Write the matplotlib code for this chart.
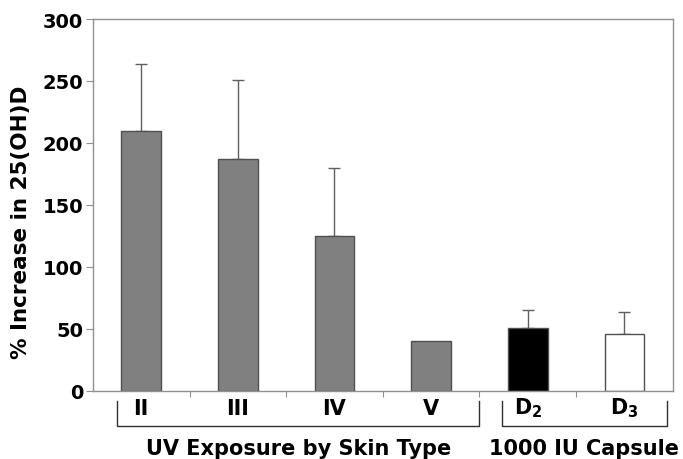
import matplotlib
matplotlib.use("Agg")
import matplotlib.pyplot as plt
import matplotlib.transforms as mtransforms

plt.rcParams['font.family'] = ['DejaVu Sans']
plt.rcParams['mathtext.fontset'] = 'custom'
plt.rcParams['mathtext.rm'] = 'DejaVu Sans'
plt.rcParams['mathtext.bf'] = 'DejaVu Sans:bold'

# data
categories = ['II', 'III', 'IV', 'V', r'$\mathbf{D_2}$', r'$\mathbf{D_3}$']
values = [210, 187, 125, 40, 51, 46]
err_upper = [54, 64, 55, 0, 14, 18]
bar_colors = ['#808080', '#808080', '#808080', '#808080', '#000000', '#ffffff']
groups = ['UV Exposure by Skin Type', '1000 IU Capsule']
yticks = [0, 50, 100, 150, 200, 250, 300]

fig = plt.figure(figsize=(6.83, 4.6), dpi=100)
ax = fig.add_axes([0.136, 0.148, 0.849, 0.8085])

x = list(range(len(categories)))
ax.bar(x, values, width=0.41, color=bar_colors, edgecolor='#505050', linewidth=1.0, zorder=2)
for xi, v, e in zip(x, values, err_upper):
    if e > 0:
        ax.errorbar(xi, v, yerr=[[0], [e]], fmt='none', ecolor='#606060',
                    elinewidth=1.0, capsize=4, capthick=1.0, zorder=1)

ax.set_xlim(-0.5, 5.5)
ax.set_ylim(0, 300)
ax.set_yticks(yticks)
ax.set_yticklabels([str(t) for t in yticks], fontsize=14, fontweight='bold')
ax.set_ylabel('% Increase in 25(OH)D', fontsize=15.5, fontweight='bold')
ax.yaxis.set_label_coords(-0.106, 0.455)

# ticks on category boundaries, labels drawn as text
ax.set_xticks([i + 0.5 for i in range(len(categories) - 1)])
ax.set_xticklabels([])
ax.tick_params(axis='x', length=4, color='#909090', direction='out')
ax.tick_params(axis='y', length=5, color='#909090', direction='out', pad=2)
for s in ax.spines.values():
    s.set_color('#909090')
    s.set_linewidth(1.0)

trans = mtransforms.blended_transform_factory(ax.transData, ax.transAxes)
for xi, lab in zip(x, categories):
    ax.text(xi, -0.045, lab, transform=trans, ha='center', va='center',
            fontsize=15, fontweight='bold')

# group brackets
brackets = [(-0.25, 3.5), (3.73, 5.44)]
for (x0, x1), g in zip(brackets, groups):
    ax.plot([x0, x0, x1, x1], [-0.027, -0.094, -0.094, -0.027], transform=trans,
            color='#303030', linewidth=1.0, clip_on=False)
    ax.text((x0 + x1) / 2, -0.153, g, transform=trans, ha='center', va='center',
            fontsize=15, fontweight='bold')

fig.savefig('out.png', dpi=100)
